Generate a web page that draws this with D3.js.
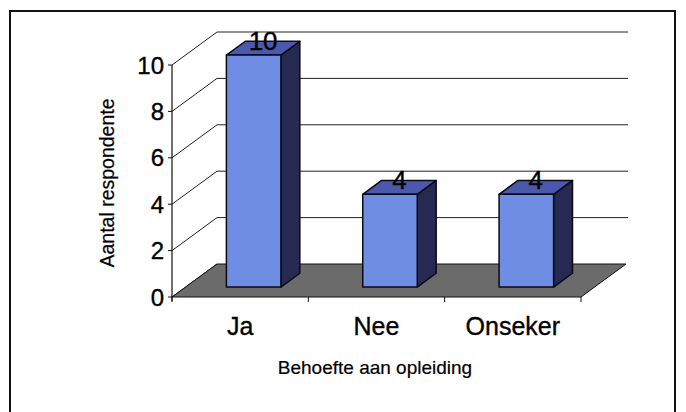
<!DOCTYPE html>
<html><head><meta charset="utf-8">
<script src="https://cdn.jsdelivr.net/npm/d3@7"></script>
<style>body{margin:0;background:#fff}svg{display:block}text{font-family:"Liberation Sans",Arial,sans-serif;fill:#000;stroke:#000;stroke-width:0.35px}</style>
</head><body>
<script>
const categories = ["Ja", "Nee", "Onseker"];
const values = [10, 4, 4];
const yTicks = [0, 2, 4, 6, 8, 10];
const yTitle = "Aantal respondente";
const xTitle = "Behoefte aan opleiding";

const W = 686, H = 412;
const svg = d3.select("body").append("svg").attr("width", W).attr("height", H);

// frame
svg.append("rect").attr("x", 10).attr("y", 11).attr("width", 665).attr("height", 430)
  .attr("fill", "none").attr("stroke", "#111").attr("stroke-width", 2);

const x0 = 172, x1 = 581;
const y = d3.scaleLinear().domain([0, 10]).range([297, 65]);
const x = d3.scaleBand().domain(categories).range([x0, x1]).paddingInner(0.6).paddingOuter(0.3);
const DX = 45, DY = -33;           // full depth of the plot
const bF = 0.3, bB = 0.72;         // bar front/back depth fractions
const gridRight = 628;

// back wall gridlines + side diagonals
const g = svg.append("g").attr("stroke", "#222").attr("stroke-width", 1).attr("fill", "none");
yTicks.forEach(v => {
  if (v > 0) {
    g.append("line").attr("x1", x0 + DX).attr("y1", y(v) + DY).attr("x2", gridRight).attr("y2", y(v) + DY);
  }
  g.append("line").attr("x1", x0).attr("y1", y(v)).attr("x2", x0 + DX).attr("y2", y(v) + DY);
});

// floor
svg.append("path")
  .attr("d", `M${x0},${y(0)} L${x1},${y(0)} L${x1 + DX},${y(0) + DY} L${x0 + DX},${y(0) + DY} Z`)
  .attr("fill", "#6b6b6b").attr("stroke", "#111").attr("stroke-width", 1);

// y axis
svg.append("line").attr("x1", x0).attr("x2", x0).attr("y1", y(10)).attr("y2", y(0) + 4)
  .attr("stroke", "#111").attr("stroke-width", 1.2);
yTicks.forEach(v => {
  svg.append("line").attr("x1", x0 - 4).attr("x2", x0).attr("y1", y(v)).attr("y2", y(v))
    .attr("stroke", "#111");
  svg.append("text").attr("x", 164).attr("y", y(v) + 8.5).attr("text-anchor", "end")
    .attr("font-size", 24).text(v);
});
// x ticks at category boundaries
const bounds = categories.map(c => x(c) - x.step() * x.paddingOuter()).concat([x1]);
bounds.forEach(b => {
  svg.append("line").attr("x1", b).attr("x2", b).attr("y1", y(0)).attr("y2", y(0) + 5)
    .attr("stroke", "#111");
});

// bars
const bars = svg.append("g").attr("stroke", "#0a0a14").attr("stroke-width", 1.5).attr("stroke-linejoin", "round");
categories.forEach((c, i) => {
  const v = values[i];
  const fx = x(c) + DX * bF, fy0 = y(0) + DY * bF, fy1 = y(v) + DY * bF;
  const w = x.bandwidth();
  const ddx = DX * (bB - bF), ddy = DY * (bB - bF);
  // side
  bars.append("path").attr("d", `M${fx + w},${fy0} L${fx + w + ddx},${fy0 + ddy} L${fx + w + ddx},${fy1 + ddy} L${fx + w},${fy1} Z`)
    .attr("fill", "#262a52");
  // top
  bars.append("path").attr("d", `M${fx},${fy1} L${fx + ddx},${fy1 + ddy} L${fx + w + ddx},${fy1 + ddy} L${fx + w},${fy1} Z`)
    .attr("fill", "#4b58ac");
  // front
  bars.append("rect").attr("x", fx).attr("y", fy1).attr("width", w).attr("height", fy0 - fy1)
    .attr("fill", "#6f8de2");
  // value label
  svg.append("text").attr("x", fx + w / 2 + ddx / 2).attr("y", fy1 + ddy / 2 + 2)
    .attr("text-anchor", "middle").attr("font-size", 26).text(v);
  // category label
  svg.append("text").attr("x", x(c) + w / 2).attr("y", 335).attr("text-anchor", "middle")
    .attr("font-size", 25).text(c);
});

// titles
svg.append("text").attr("x", 375).attr("y", 374).attr("text-anchor", "middle")
  .attr("font-size", 19).style("stroke-width", "0.2px").text(xTitle);
svg.append("text").attr("transform", "translate(114,183) rotate(-90)").attr("text-anchor", "middle")
  .attr("font-size", 19.5).style("stroke-width", "0.2px").text(yTitle);
</script>
</body></html>
